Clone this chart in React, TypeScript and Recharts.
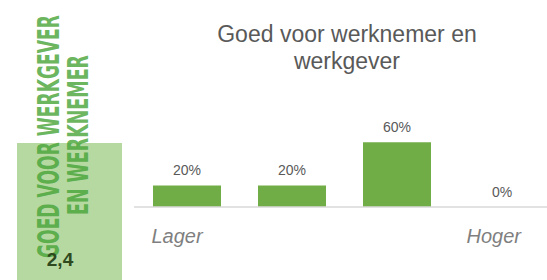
import React from "react";
import { BarChart, Bar, XAxis, YAxis, LabelList } from "recharts";

const categories = ["1", "2", "3", "4"];
const shares = [20, 20, 60, 0];
const tickLabels = ["Lager", "", "", "Hoger"];
const titleLines = ["Goed voor werknemer en", "werkgever"];
const scoreLines = ["GOED VOOR WERKGEVER", "EN WERKNEMER"];
const score = "2,4";

const data = categories.map((c, i) => ({ cat: c, value: shares[i] }));

// italic end labels, left-aligned with the bar edge
const EndTick = (props: any) => {
  const { x, y, index } = props;
  const label = tickLabels[index];
  if (!label) return null;
  return (
    <text
      x={x - 35}
      y={y + 28}
      textAnchor="start"
      fontSize={20}
      fontStyle="italic"
      fill="#7f7f7f"
      fontFamily="Liberation Sans, Arial, sans-serif"
    >
      {label}
    </text>
  );
};

const ScorePanel = () => (
  <svg width={130} height={280} style={{ position: "absolute", left: 0, top: 0 }}>
    <rect x={17} y={143} width={105} height={137} fill="#b6d9a2" />
    <text
      transform="translate(59,258) rotate(-90) scale(1,1.63)"
      fontSize={18.5}
      fontWeight="bold"
      fill="#45a234"
      fillOpacity={0.8}
      textLength={243}
      lengthAdjust="spacingAndGlyphs"
      fontFamily="DejaVu Sans Condensed, sans-serif"
    >
      {scoreLines[0]}
    </text>
    <text
      transform="translate(88,215) rotate(-90) scale(1,1.45)"
      fontSize={19}
      fontWeight="bold"
      fill="#45a234"
      fillOpacity={0.8}
      textLength={160}
      lengthAdjust="spacingAndGlyphs"
      fontFamily="DejaVu Sans Condensed, sans-serif"
    >
      {scoreLines[1]}
    </text>
    <text
      x={60}
      y={266}
      textAnchor="middle"
      fontSize={19}
      fontWeight="bold"
      fill="#2e4a1e"
      fontFamily="Liberation Sans, Arial, sans-serif"
    >
      {score}
    </text>
  </svg>
);

export default function App() {
  return (
    <div
      style={{
        position: "absolute",
        left: 0,
        top: 0,
        width: 547,
        height: 280,
        overflow: "hidden",
        background: "#fff",
        fontFamily: "Liberation Sans, Arial, sans-serif",
      }}
    >
      <BarChart
        width={560}
        height={280}
        data={data}
        margin={{ top: 99, right: 6, bottom: 0, left: 134 }}
      >
        <XAxis
          dataKey="cat"
          height={73}
          axisLine={{ stroke: "#d9d9d9", strokeWidth: 1.5 }}
          tickLine={false}
          tick={<EndTick />}
          interval={0}
        />
        <YAxis hide domain={[0, 100]} />
        <Bar
          dataKey="value"
          fill="#70ad47"
          barSize={68}
          minPointSize={0.1}
          isAnimationActive={false}
        >
          <LabelList
            dataKey="value"
            position="top"
            offset={10}
            formatter={(v: any) => `${v}%`}
            fill="#595959"
            fontSize={14}
          />
        </Bar>
      </BarChart>
      <div
        style={{
          position: "absolute",
          left: 197,
          top: 21,
          width: 300,
          textAlign: "center",
          fontSize: 23,
          lineHeight: "27px",
          color: "#595959",
        }}
      >
        {titleLines.map((l) => (
          <div key={l}>{l}</div>
        ))}
      </div>
      <ScorePanel />
    </div>
  );
}
